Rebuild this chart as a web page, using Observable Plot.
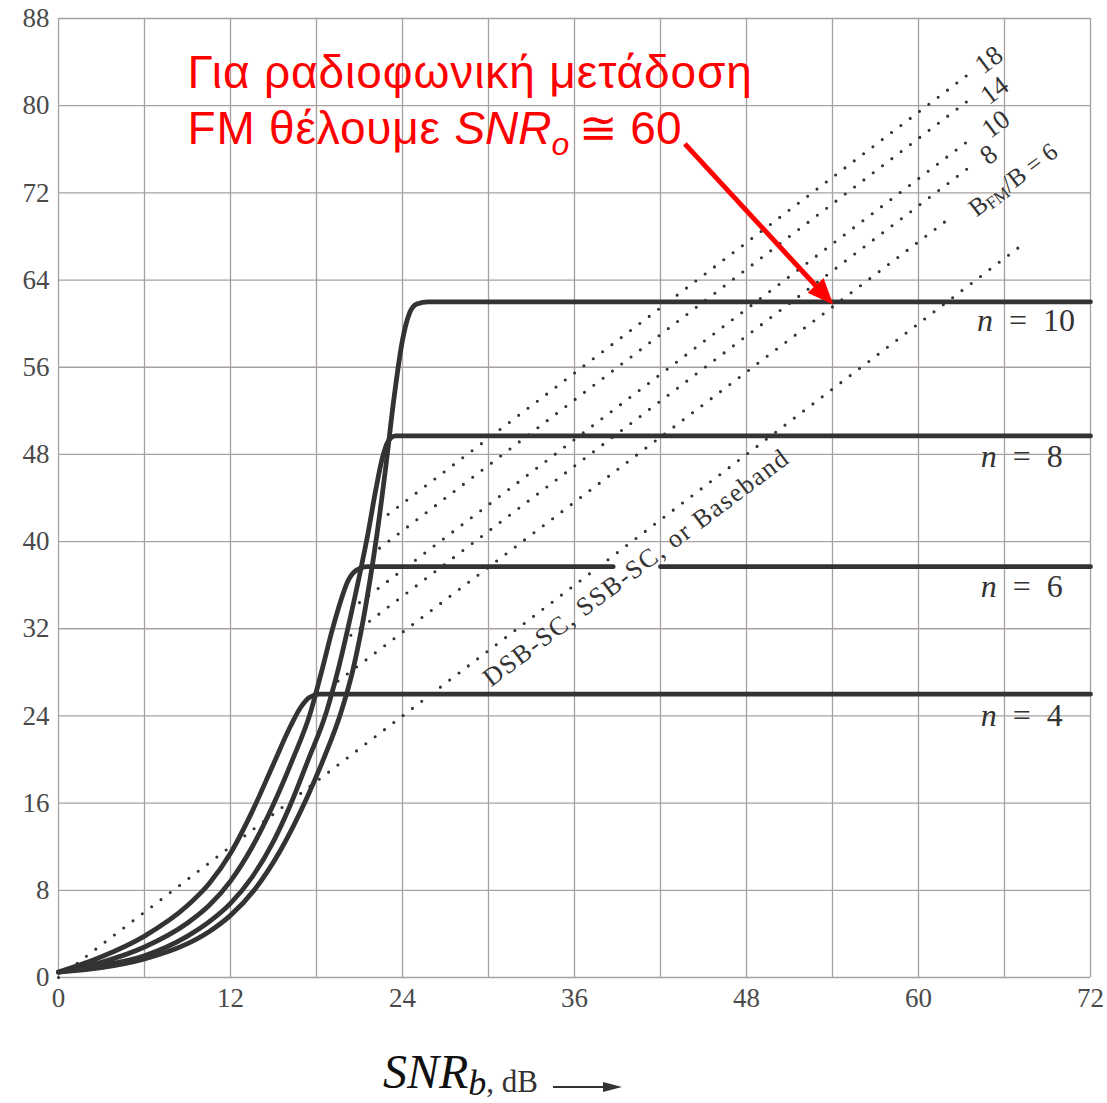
<!DOCTYPE html>
<html><head><meta charset="utf-8">
<script src="https://cdn.jsdelivr.net/npm/d3@7"></script>
<script src="https://cdn.jsdelivr.net/npm/@observablehq/plot@0.6"></script>
<style>
body{margin:0;background:#fff;}
#wrap{width:1107px;height:1103px;overflow:hidden;}
svg{display:block;}
</style>
</head><body><div id="wrap"></div>
<script>
// ---- axes ----
const xTicks = [0, 12, 24, 36, 48, 60, 72];
const yTicks = [0, 8, 16, 24, 32, 40, 48, 56, 64, 72, 80, 88];
const xGrid = [0, 6, 12, 18, 24, 30, 36, 42, 48, 54, 60, 66, 72];
const yGrid = [0, 8, 16, 24, 32, 40, 48, 56, 64, 72, 80, 88];

// ---- PCM curves (SNR_b dB -> SNR_o dB) ----
const pcmN = [4, 6, 8, 10];
const pcm4X = [0, 3, 6, 9, 10.5, 12, 13.5, 15.0, 16.2, 16.9, 17.5, 18.2, 72];
const pcm4Y = [0.5, 1.9, 3.8, 6.6, 8.6, 11.4, 15.2, 19.6, 23.1, 24.8, 25.7, 26.0, 26.0];
const pcm6X = [0, 3, 6, 9, 10.5, 12, 13.5, 15.0, 16.3, 17.6, 18.4, 19.1, 19.7, 20.2, 20.8, 21.5, 38.7, 40, 42.0, 72];
const pcm6Y = [0.5, 1.4, 2.8, 5.0, 6.6, 8.85, 11.95, 15.9, 19.9, 24.4, 28.3, 31.9, 34.6, 36.4, 37.4, 37.7, 37.7, NaN, 37.7, 37.7];
const pcm8X = [0, 3, 6, 9, 10.5, 12, 13.5, 15.0, 16.1, 17.4, 18.7, 19.5, 20.2, 21.0, 21.6, 22.1, 22.6, 23.0, 23.5, 72];
const pcm8Y = [0.5, 1.1, 2.0, 3.8, 5.1, 6.8, 9.2, 12.5, 15.6, 19.9, 24.4, 28.2, 32.1, 36.9, 40.8, 44.5, 47.7, 49.2, 49.7, 49.7];
const pcm10X = [0, 3, 6, 9, 10.5, 12, 13.7, 15.5, 17.3, 18.6, 19.7, 20.5, 21.1, 21.7, 22.2, 22.8, 23.4, 24.0, 24.5, 25.0, 25.8, 72];
const pcm10Y = [0.5, 0.9, 1.7, 3.1, 4.2, 5.7, 8.1, 11.7, 16.4, 20.4, 24.3, 28.0, 31.7, 36.2, 40.5, 46.5, 53.1, 58.5, 61.0, 61.8, 62, 62];

// ---- FM / baseband dotted lines (start and end points) ----
const fmName = ["base", "6", "8", "10", "14", "18"];
const fmX1 = [0, 19.5, 20.4, 21.0, 22.4, 23.0];
const fmY1 = [0, 27.2, 31.4, 34.4, 39.4, 42.5];
const fmX2 = [67.5, 62.3, 63.9, 63.4, 63.6, 63.9];
const fmY2 = [67.5, 69.8, 74.7, 76.7, 80.6, 83.3];

// ---- labels ----
const fmLabelText = ["18", "14", "10", "8"];
const fmLabelX = [64.9, 65.3, 65.4, 64.9];
const fmLabelY = [84.2, 81.4, 78.3, 75.5];
const ratioLabelText = ["BFM/B = 6"];
const ratioLabelX = [66.6];
const ratioLabelY = [73.2];
const nLabelText = ["n = 10", "n = 8", "n = 6", "n = 4"];
const nLabelX = [67.5, 67.2, 67.2, 67.2];
const nLabelY = [60.3, 47.8, 35.9, 24.0];
const baseLabelText = ["DSB-SC, SSB-SC, or Baseband"];
const baseLabelX = [40.3];
const baseLabelY = [37.6];

// ---- red annotation ----
const noteLines = ["Για ραδιοφωνική μετάδοση", "FM θέλουμε SNRo ≅ 60"];
const noteX = [9.0, 9.0];
const noteY = [81.65, 76.5];
const arrowX1 = [43.7], arrowY1 = [76.5], arrowX2 = [53.8], arrowY2 = [62.1];

// ---- build tables ----
const pcmSeries = [[pcm4X, pcm4Y], [pcm6X, pcm6Y], [pcm8X, pcm8Y], [pcm10X, pcm10Y]];
const pcmData = pcmSeries.flatMap(([xs, ys], k) => xs.map((x, i) => ({n: pcmN[k], x, y: ys[i]})));
const fmData = fmName.map((name, i) => ({name, x1: fmX1[i], y1: fmY1[i], x2: fmX2[i], y2: fmY2[i]}));
const fmLabels = fmLabelText.map((t, i) => ({t, x: fmLabelX[i], y: fmLabelY[i]}));
const ratioLabels = ratioLabelText.map((t, i) => ({t, x: ratioLabelX[i], y: ratioLabelY[i]}));
const nLabels = nLabelText.map((t, i) => ({t, x: nLabelX[i], y: nLabelY[i]}));
const baseLabels = baseLabelText.map((t, i) => ({t, x: baseLabelX[i], y: baseLabelY[i]}));
const notes = noteLines.map((t, i) => ({t, x: noteX[i], y: noteY[i]}));
const arrows = arrowX1.map((x1, i) => ({x1, y1: arrowY1[i], x2: arrowX2[i], y2: arrowY2[i]}));

const serif = "'Liberation Serif', 'Times New Roman', serif";
const gridColor = "#a8a0a0";
const ink = "#333333";

const chart = Plot.plot({
  width: 1107, height: 1030,
  marginLeft: 58, marginRight: 17, marginTop: 18, marginBottom: 53,
  x: {domain: [0, 72]},
  y: {domain: [0, 88]},
  style: {fontFamily: serif, background: "white"},
  marks: [
    Plot.ruleX(xGrid, {stroke: gridColor, strokeWidth: 1.3}),
    Plot.ruleY(yGrid, {stroke: gridColor, strokeWidth: 1.3}),
    Plot.axisX({ticks: xTicks, tickSize: 0, tickPadding: 10, fontSize: 27, color: "#4a4a4a", label: null, tickFormat: d => String(d)}),
    Plot.axisY({ticks: yTicks, tickSize: 0, tickPadding: 9, fontSize: 27, color: "#4a4a4a", label: null, tickFormat: d => String(d)}),
    Plot.link(fmData, {x1: "x1", y1: "y1", x2: "x2", y2: "y2", stroke: ink, strokeWidth: 3.1, strokeDasharray: "0,11.7", strokeLinecap: "round"}),
    Plot.line(pcmData, {x: "x", y: "y", z: "n", curve: "monotone-x", stroke: ink, strokeWidth: 4.8, strokeLinejoin: "round"}),
    Plot.text(fmLabels, {x: "x", y: "y", text: "t", rotate: -37, fontSize: 27, fill: ink}),
    Plot.text(ratioLabels, {x: "x", y: "y", text: "t", rotate: -37, fontSize: 25, fill: ink, className: "ratiolab"}),
    Plot.text(baseLabels, {x: "x", y: "y", text: "t", rotate: -37, fontSize: 26, fill: ink, className: "baselab"}),
    Plot.text(nLabels, {x: "x", y: "y", text: "t", fontSize: 32, fill: ink, className: "nlab"}),
    Plot.link(arrows, {x1: "x1", y1: "y1", x2: "x2", y2: "y2", stroke: "#ff0000", strokeWidth: 5, className: "redarrow"}),
    Plot.text(notes, {x: "x", y: "y", text: "t", textAnchor: "start", lineAnchor: "bottom", fontSize: 46, fill: "#ff0000", fontFamily: "'Liberation Sans', Arial, sans-serif", className: "note"})
  ]
});

const NS = "http://www.w3.org/2000/svg";
function tsp(txt, attrs) {
  const t = document.createElementNS(NS, "tspan");
  for (const k in (attrs || {})) t.setAttribute(k, attrs[k]);
  t.textContent = txt;
  return t;
}
function rebuild(el, parts) {
  while (el.firstChild) el.removeChild(el.firstChild);
  parts.forEach(p => el.appendChild(p));
}

// mixed-style texts
chart.querySelectorAll("g.nlab text").forEach(el => {
  const num = el.textContent.split("=")[1].trim();
  rebuild(el, [tsp("n", {"font-style": "italic"}), tsp("\u00a0\u00a0=\u00a0\u00a0" + num)]);
});
chart.querySelectorAll("g.ratiolab text").forEach(el => {
  const rest = el.textContent.slice(3);
  rebuild(el, [tsp("B"), tsp("FM", {"font-size": "17", dy: "3"}), tsp(rest, {dy: "-3"})]);
});
chart.querySelectorAll("g.baselab text").forEach(el => el.setAttribute("letter-spacing", "1.6"));
chart.querySelectorAll("g.note text").forEach(el => {
  const s = el.textContent;
  if (s.startsWith("FM")) {
    const i = s.indexOf("SNR");
    const tail = s.slice(i + 4).trim().split(" ");
    rebuild(el, [
      tsp(s.slice(0, i), {"letter-spacing": "0.8"}),
      tsp("SNR", {"font-style": "italic"}),
      tsp(s[i + 3], {"font-style": "italic", "font-size": "32", dy: "11"}),
      tsp("\u2009" + tail[0], {dy: "-11"}),
      tsp(" " + tail[1])
    ]);
  } else {
    el.setAttribute("letter-spacing", "0.9");
  }
});
// filled arrowhead for the red arrow
const defs = document.createElementNS(NS, "defs");
const marker = document.createElementNS(NS, "marker");
marker.setAttribute("id", "redhead");
marker.setAttribute("viewBox", "0 -5 10 10");
marker.setAttribute("refX", "8");
marker.setAttribute("refY", "0");
marker.setAttribute("markerWidth", "5.2");
marker.setAttribute("markerHeight", "5.2");
marker.setAttribute("orient", "auto");
const mp = document.createElementNS(NS, "path");
mp.setAttribute("d", "M0,-4.2L10,0L0,4.2Z");
mp.setAttribute("fill", "#ff0000");
marker.appendChild(mp); defs.appendChild(marker);
chart.insertBefore(defs, chart.firstChild);
chart.querySelectorAll("g.redarrow path, g.redarrow line").forEach(p => p.setAttribute("marker-end", "url(#redhead)"));

document.getElementById("wrap").appendChild(chart);

// x-axis title below the chart
const lab = document.createElementNS(NS, "svg");
lab.setAttribute("width", "1107"); lab.setAttribute("height", "73");
const t = document.createElementNS(NS, "text");
t.setAttribute("x", "383"); t.setAttribute("y", "58");
t.setAttribute("font-family", serif); t.setAttribute("fill", "#111");
t.appendChild(tsp("SNR", {"font-style": "italic", "font-size": "48"}));
t.appendChild(tsp("b", {"font-style": "italic", "font-size": "36", dy: "7"}));
t.appendChild(tsp(", dB", {"font-size": "31", dy: "-3", fill: "#333"}));
lab.appendChild(t);
const ln = document.createElementNS(NS, "line");
ln.setAttribute("x1", "553"); ln.setAttribute("x2", "612"); ln.setAttribute("y1", "57"); ln.setAttribute("y2", "57");
ln.setAttribute("stroke", "#333"); ln.setAttribute("stroke-width", "2");
lab.appendChild(ln);
const hd = document.createElementNS(NS, "path");
hd.setAttribute("d", "M603,52 L622,57 L603,62 Z"); hd.setAttribute("fill", "#333");
lab.appendChild(hd);
document.getElementById("wrap").appendChild(lab);
</script>
</body></html>
